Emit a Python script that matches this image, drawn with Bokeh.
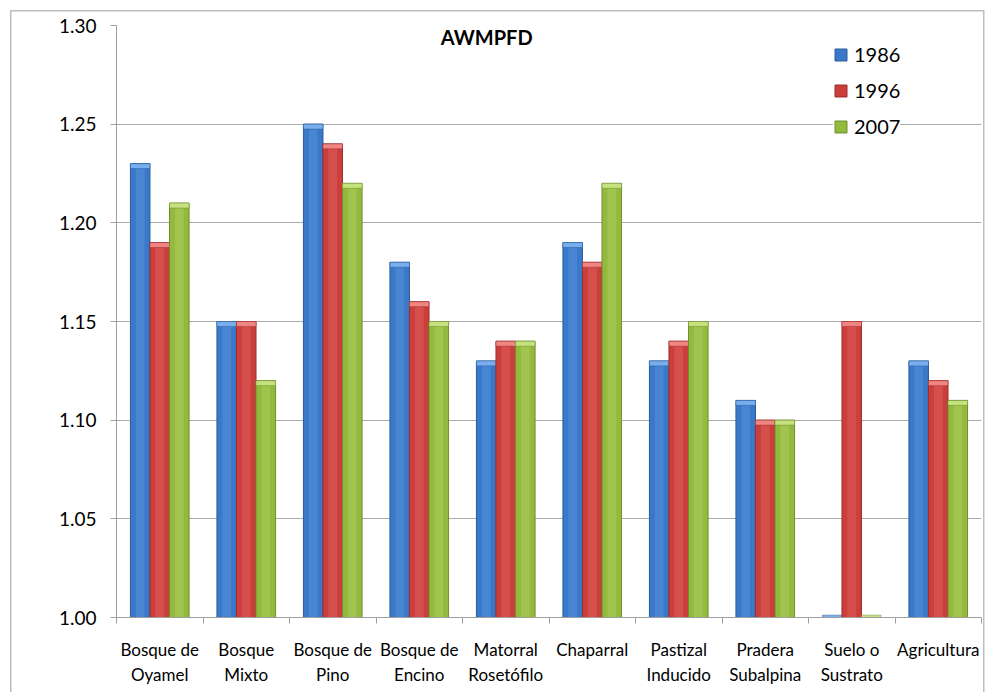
import numpy as np
from bokeh.plotting import figure
from bokeh.models import (Range1d, FixedTicker, NumeralTickFormatter, Label,
                          Legend, LegendItem, ColumnDataSource)
from bokeh.embed import file_html
from bokeh.resources import INLINE

# ---- data ----
categories = ["Bosque de\nOyamel", "Bosque\nMixto", "Bosque de\nPino", "Bosque de\nEncino",
              "Matorral\nRosetófilo", "Chaparral", "Pastizal\nInducido", "Pradera\nSubalpina",
              "Suelo o\nSustrato", "Agricultura"]
series_names = ["1986", "1996", "2007"]
v1986 = [1.23, 1.15, 1.25, 1.18, 1.13, 1.19, 1.13, 1.11, 1.00, 1.13]
v1996 = [1.19, 1.15, 1.24, 1.16, 1.14, 1.18, 1.14, 1.10, 1.15, 1.12]
v2007 = [1.21, 1.12, 1.22, 1.15, 1.14, 1.22, 1.15, 1.10, 1.00, 1.11]
y_ticks = [1.00, 1.05, 1.10, 1.15, 1.20, 1.25, 1.30]
title_text = "AWMPFD"

FONT = "Lato"
base = 1.0
n = len(categories)
centers = [i + 0.5 for i in range(n)]
bar_w = 0.226
offsets = [-bar_w, 0.0, bar_w]
base_cols = ["#3A78C9", "#CC3E3B", "#93BA3E"]
dark_cols = ["#2B5C9E", "#9C2F2D", "#6F8E2D"]
light_cols = ["#79AEEE", "#F08683", "#C6E27E"]
cap_h = 0.0025
flat_h = 0.0012

p = figure(width=985, height=692, output_backend="svg", toolbar_location=None,
           x_range=Range1d(0, n), y_range=Range1d(1.0, 1.30),
           min_border_left=116, min_border_right=4, min_border_top=25, min_border_bottom=75)
p.background_fill_color = "white"
p.border_fill_color = None
p.outline_line_color = None
# outer chart-area frame (light grey line), drawn behind the transparent canvas border
g = "linear-gradient(#BDBDBD,#BDBDBD)"
p.styles = {"background": (f"{g} 10px 10px / 1.5px 720px no-repeat, "
                           f"{g} 10px 10px / 974px 1.5px no-repeat, "
                           f"{g} 983px 10px / 1.5px 720px no-repeat, white")}
p.xgrid.visible = False
p.ygrid.grid_line_color = "#ABABAB"
p.ygrid.grid_line_width = 1

# y axis
p.yaxis.ticker = FixedTicker(ticks=y_ticks)
p.yaxis.formatter = NumeralTickFormatter(format="0.00")
p.yaxis.axis_line_color = "#9E9E9E"
p.yaxis.major_tick_line_color = "#9E9E9E"
p.yaxis.major_tick_out = 6
p.yaxis.major_tick_in = 0
p.yaxis.minor_tick_line_color = None
p.yaxis.major_label_text_font = FONT
p.yaxis.major_label_text_font_size = "19px"
p.yaxis.major_label_text_color = "#000000"
p.yaxis.major_label_standoff = 14

# x axis
p.xaxis.ticker = FixedTicker(ticks=centers, minor_ticks=list(range(n + 1)))
p.xaxis.major_label_overrides = {c: lab for c, lab in zip(centers, categories)}
p.xaxis.axis_line_color = "#9E9E9E"
p.xaxis.major_tick_line_color = None
p.xaxis.major_tick_out = 0
p.xaxis.major_tick_in = 0
p.xaxis.minor_tick_line_color = "#9E9E9E"
p.xaxis.minor_tick_out = 6
p.xaxis.minor_tick_in = 0
p.xaxis.major_label_text_font = FONT
p.xaxis.major_label_text_font_size = "17px"
p.xaxis.major_label_text_color = "#000000"
p.xaxis.major_label_standoff = 15

renderers = []
for k, (name, vals) in enumerate(zip(series_names, [v1986, v1996, v2007])):
    xs = [c + offsets[k] for c in centers]
    src = ColumnDataSource(dict(
        x=xs, top=vals,
        cap_top=[max(v, base + flat_h) for v in vals],
        cap_bottom=[max(v - cap_h, base) for v in vals]))
    r = p.vbar(x="x", top="top", bottom=base, width=bar_w, source=src,
               fill_color=base_cols[k], line_color=dark_cols[k], line_width=1)
    p.vbar(x="x", top="top", bottom=base, width=bar_w * 0.45, source=src,
           fill_color=light_cols[k], fill_alpha=0.25, line_color=None)
    p.vbar(x="x", top="cap_top", bottom="cap_bottom", width=bar_w, source=src,
           fill_color=light_cols[k], line_color=dark_cols[k], line_width=0.5)
    renderers.append(r)

legend = Legend(items=[LegendItem(label=nm, renderers=[r]) for nm, r in zip(series_names, renderers)],
                location=(717, 479))
legend.label_text_font = FONT
legend.label_text_font_size = "20px"
legend.label_text_color = "#000000"
legend.glyph_width = 15
legend.glyph_height = 15
legend.label_height = 20
legend.spacing = 12
legend.padding = 4
legend.margin = 0
legend.label_standoff = 6
legend.border_line_color = None
legend.background_fill_color = "white"
legend.background_fill_alpha = 1.0
p.add_layout(legend)

title = Label(x=4.28, y=1.2944, text=title_text, text_align="center", text_baseline="middle",
              text_font=FONT, text_font_style="bold", text_font_size="20px", text_color="#000000")
p.add_layout(title)

open("out.html", "w").write(file_html(p, INLINE))
